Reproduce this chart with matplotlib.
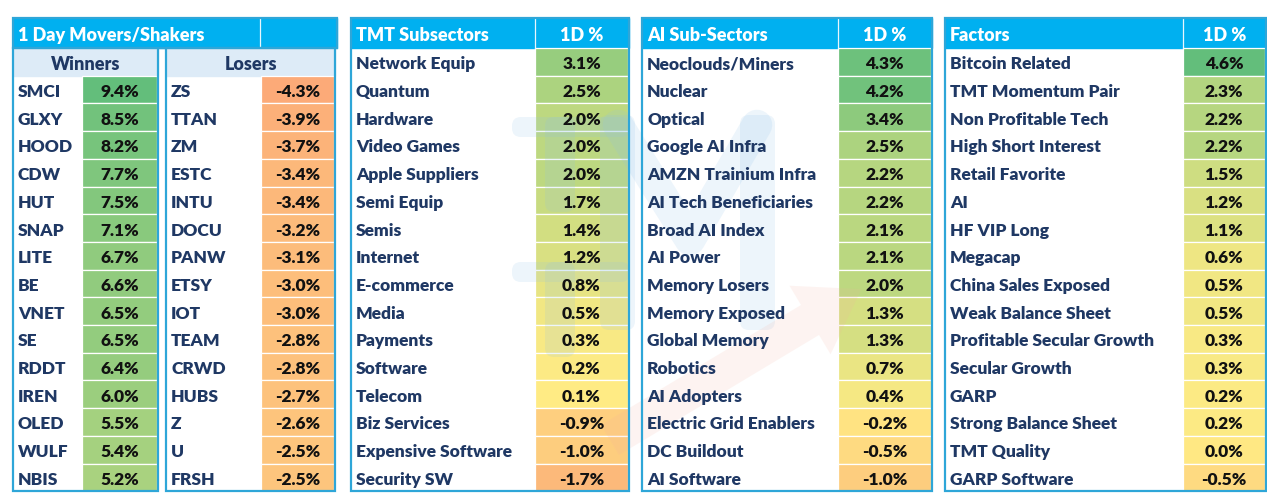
import matplotlib
matplotlib.use("Agg")
import matplotlib.pyplot as plt
from matplotlib.patches import Rectangle, FancyBboxPatch, FancyArrow
import numpy as np

# ---- data ----
winners = ["SMCI", "GLXY", "HOOD", "CDW", "HUT", "SNAP", "LITE", "BE", "VNET", "SE",
           "RDDT", "IREN", "OLED", "WULF", "NBIS"]
winners_pct = [9.4, 8.5, 8.2, 7.7, 7.5, 7.1, 6.7, 6.6, 6.5, 6.5, 6.4, 6.0, 5.5, 5.4, 5.2]

losers = ["ZS", "TTAN", "ZM", "ESTC", "INTU", "DOCU", "PANW", "ETSY", "IOT", "TEAM",
          "CRWD", "HUBS", "Z", "U", "FRSH"]
losers_pct = [-4.3, -3.9, -3.7, -3.4, -3.4, -3.2, -3.1, -3.0, -3.0, -2.8, -2.8, -2.7, -2.6, -2.5, -2.5]

tmt = ["Network Equip", "Quantum", "Hardware", "Video Games", "Apple Suppliers", "Semi Equip",
       "Semis", "Internet", "E-commerce", "Media", "Payments", "Software", "Telecom",
       "Biz Services", "Expensive Software", "Security SW"]
tmt_pct = [3.1, 2.5, 2.0, 2.0, 2.0, 1.7, 1.4, 1.2, 0.8, 0.5, 0.3, 0.2, 0.1, -0.9, -1.0, -1.7]

ai = ["Neoclouds/Miners", "Nuclear", "Optical", "Google AI Infra", "AMZN Trainium Infra",
      "AI Tech Beneficiaries", "Broad AI Index", "AI Power", "Memory Losers", "Memory Exposed",
      "Global Memory", "Robotics", "AI Adopters", "Electric Grid Enablers", "DC Buildout",
      "AI Software"]
ai_pct = [4.3, 4.2, 3.4, 2.5, 2.2, 2.2, 2.1, 2.1, 2.0, 1.3, 1.3, 0.7, 0.4, -0.2, -0.5, -1.0]

factors = ["Bitcoin Related", "TMT Momentum Pair", "Non Profitable Tech", "High Short Interest",
           "Retail Favorite", "AI", "HF VIP Long", "Megacap", "China Sales Exposed",
           "Weak Balance Sheet", "Profitable Secular Growth", "Secular Growth", "GARP",
           "Strong Balance Sheet", "TMT Quality", "GARP Software"]
factors_pct = [4.6, 2.3, 2.2, 2.2, 1.5, 1.2, 1.1, 0.6, 0.5, 0.5, 0.3, 0.3, 0.2, 0.2, 0.0, -0.5]

# ---- style ----
FONT = "Lato"
WEIGHT = "heavy"
HEAD_BLUE = "#00b0f0"
BORDER = "#2ea6d8"
SUB_BLUE = "#ddebf7"
NAVY = "#1f3864"
GREEN = np.array([99, 190, 123]) / 255
YELLOW = np.array([255, 235, 132]) / 255
RED = np.array([248, 105, 107]) / 255

TOP = 18
HEAD_H = 30
ROW_Y0 = 48
ROW_H = 27.7
BOTTOM = ROW_Y0 + 16 * ROW_H
TXT_DY = 2.5


def scale_color(v, lo, mid, hi):
    # excel style 3 colour scale
    if v >= mid:
        t = min((v - mid) / (hi - mid), 1.0)
        return YELLOW + (GREEN - YELLOW) * t
    t = min((mid - v) / (mid - lo), 1.0)
    return YELLOW + (RED - YELLOW) * t


def fmt(v):
    return f"{v:.1f}%"


fig = plt.figure(figsize=(12.67, 4.99), dpi=100)
ax = fig.add_axes([0, 0, 1, 1])
ax.set_xlim(0, 1267)
ax.set_ylim(499, 0)
ax.axis("off")


def header(x0, x1, xdiv, title, right_title):
    ax.add_patch(Rectangle((x0, TOP), x1 - x0, HEAD_H, color=HEAD_BLUE, zorder=1))
    ax.plot([xdiv, xdiv], [TOP + 1, TOP + HEAD_H], color="#e8f6fd", lw=0.9, zorder=2)
    ax.text(x0 + 5, TOP + HEAD_H / 2 + TXT_DY, title, color="white", fontsize=13,
            fontweight=WEIGHT, family=FONT, va="center", ha="left", zorder=5)
    if right_title:
        ax.text((xdiv + x1) / 2, TOP + HEAD_H / 2 + TXT_DY, right_title, color="white",
                fontsize=13, fontweight=WEIGHT, family=FONT, va="center", ha="center", zorder=5)


def column(x0, xdiv, x1, names, vals, start_row, lo, mid, hi):
    for i, (n, v) in enumerate(zip(names, vals)):
        y = ROW_Y0 + (start_row + i) * ROW_H
        ax.add_patch(Rectangle((xdiv, y), x1 - xdiv, ROW_H,
                               facecolor=scale_color(v, lo, mid, hi),
                               edgecolor="white", lw=0.9, zorder=1))
        ax.text(x0 + 5, y + ROW_H / 2 + TXT_DY, n, color=NAVY, fontsize=12.5, fontweight=WEIGHT,
                family=FONT, va="center", ha="left", zorder=5)
        ax.text((xdiv + x1) / 2, y + ROW_H / 2 + TXT_DY, fmt(v), color="#111111", fontsize=12.5,
                fontweight=WEIGHT, family=FONT, va="center", ha="center", zorder=5)


def box(x0, y0, x1, y1):
    ax.add_patch(Rectangle((x0, y0), x1 - x0, y1 - y0, fill=False, edgecolor=BORDER,
                           lw=1.6, zorder=6))


# ---- panel 1: movers/shakers ----
header(13, 337, 260, "1 Day Movers/Shakers", "")
ax.add_patch(Rectangle((13, ROW_Y0), 145, ROW_H, color=SUB_BLUE, zorder=1))
ax.add_patch(Rectangle((166, ROW_Y0), 169, ROW_H, color=SUB_BLUE, zorder=1))
ax.text((13 + 158) / 2, ROW_Y0 + ROW_H / 2 + TXT_DY, "Winners", color=NAVY, fontsize=13,
        fontweight=WEIGHT, family=FONT, ha="center", va="center", zorder=5)
ax.text((166 + 335) / 2, ROW_Y0 + ROW_H / 2 + TXT_DY, "Losers", color=NAVY, fontsize=13,
        fontweight=WEIGHT, family=FONT, ha="center", va="center", zorder=5)
column(13, 82, 157, winners, winners_pct, 1, -8.6, 0.0, 9.4)
column(166, 261, 334, losers, losers_pct, 1, -8.6, 0.0, 9.4)
box(13, TOP, 337, TOP + HEAD_H)
box(13, ROW_Y0, 158, BOTTOM)
box(166, ROW_Y0, 335, BOTTOM)

# ---- other panels ----
panels = [
    (351, 535, 629, "TMT Subsectors", tmt, tmt_pct),
    (642, 838, 932, "AI Sub-Sectors", ai, ai_pct),
    (945, 1183, 1266, "Factors", factors, factors_pct),
]
for x0, xdiv, x1, title, names, vals in panels:
    header(x0, x1, xdiv, title, "1D %")
    column(x0, xdiv, x1 - 1, names, vals, 0, -4.6, 0.1, 4.6)
    box(x0, TOP, x1, BOTTOM)

# ---- faint logo watermark (drawn as shapes) ----
wm = dict(facecolor="#8fc1ea", alpha=0.16, lw=0, zorder=3)
for (x, y, w, h) in [(512, 117, 118, 20), (545, 117, 30, 95),      # upper T
                     (512, 262, 118, 20), (545, 262, 30, 95),      # lower T
                     (600, 115, 35, 215), (740, 115, 35, 215)]:    # M sides
    ax.add_patch(FancyBboxPatch((x, y), w, h, boxstyle="round,pad=0,rounding_size=9", **wm))
ax.plot([618, 690, 757], [125, 240, 125], color="#8fc1ea", alpha=0.16, lw=22,
        solid_capstyle="round", zorder=3)
ax.add_patch(FancyArrow(610, 440, 200, -120, width=35, head_width=80, head_length=60,
                        color="#f5b0a0", alpha=0.14, lw=0, zorder=3))

fig.savefig("out.png", dpi=100, facecolor="white")
